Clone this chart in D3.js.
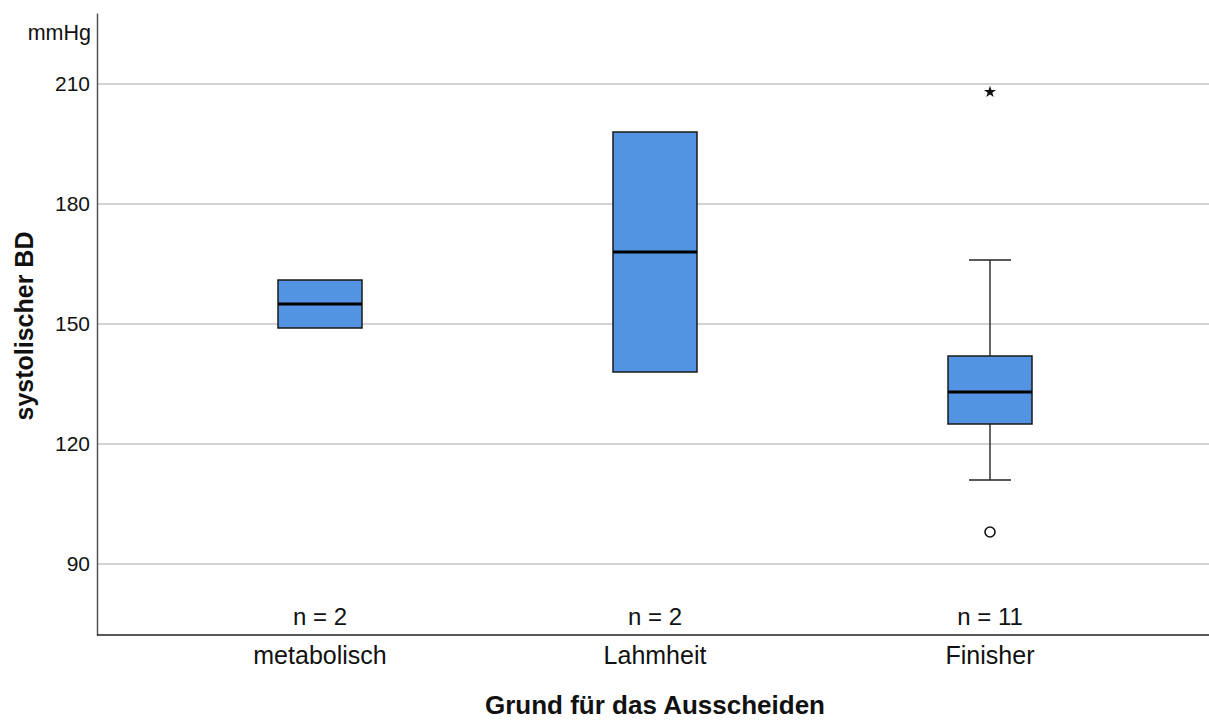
<!DOCTYPE html>
<html>
<head>
<meta charset="utf-8">
<script src="https://cdn.jsdelivr.net/npm/d3@7"></script>
<style>
  html, body { margin: 0; padding: 0; background: #fff; }
  svg { display: block; font-family: "Liberation Sans", Arial, sans-serif; }
</style>
</head>
<body>
<svg id="chart" width="1209" height="724"></svg>
<script>
// Groups and their box-plot summaries (systolic blood pressure, mmHg)
const categories = ["metabolisch", "Lahmheit", "Finisher"];
const q1Values = [149, 138, 125];
const medianValues = [155, 168, 133];
const q3Values = [161, 198, 142];
const whiskerLow = [null, null, 111];
const whiskerHigh = [null, null, 166];
const counts = [2, 2, 11];
// Outliers (circle) and extreme values (star)
const outliers = [{ group: "Finisher", value: 98 }];
const extremes = [{ group: "Finisher", value: 208 }];
const yTicks = [90, 120, 150, 180, 210];

const svg = d3.select("#chart");
const W = 1209;
const axisLeft = 97, axisTop = 13, axisBottom = 635;

const x = d3.scaleBand().domain(categories).range([152.5, 1157.5]);
const xCenter = d => x(d) + x.bandwidth() / 2;
const y = d3.scaleLinear().domain([72.25, 227.75]).range([axisBottom, axisTop]);

// grid lines
svg.append("g")
  .selectAll("line")
  .data(yTicks)
  .join("line")
  .attr("x1", axisLeft).attr("x2", W)
  .attr("y1", d => y(d)).attr("y2", d => y(d))
  .attr("stroke", "#c4c4c4").attr("stroke-width", 1.5);

// y axis
const yAxis = d3.axisLeft(y).tickValues(yTicks).tickSize(0).tickPadding(7);
const gy = svg.append("g").attr("transform", `translate(${axisLeft},0)`).call(yAxis);
gy.select(".domain").attr("stroke", "#555").attr("stroke-width", 1.5);
gy.selectAll("text").attr("font-size", 21).attr("fill", "#111").attr("font-family", "Liberation Sans, Arial, sans-serif");

svg.append("text")
  .attr("x", 91).attr("y", 40)
  .attr("text-anchor", "end").attr("font-size", 21.5).attr("fill", "#111")
  .text("mmHg");

// x axis
const xAxis = d3.axisBottom(x).tickSize(0).tickPadding(11);
const gx = svg.append("g").attr("transform", `translate(0,${axisBottom})`).call(xAxis);
gx.select(".domain").attr("d", `M${axisLeft},0H${W}`).attr("stroke", "#222").attr("stroke-width", 1.5);
gx.selectAll("text").attr("font-size", 25).attr("fill", "#111").attr("font-family", "Liberation Sans, Arial, sans-serif");

// axis titles
svg.append("text")
  .attr("x", 655).attr("y", 714)
  .attr("text-anchor", "middle").attr("font-size", 26).attr("font-weight", "bold").attr("fill", "#111")
  .text("Grund für das Ausscheiden");

svg.append("text")
  .attr("transform", `translate(33,326) rotate(-90)`)
  .attr("text-anchor", "middle").attr("font-size", 25).attr("font-weight", "bold").attr("fill", "#111")
  .text("systolischer BD");

const boxW = 84, capW = 42;
const rows = categories.map((c, i) => ({
  c, q1: q1Values[i], med: medianValues[i], q3: q3Values[i],
  lo: whiskerLow[i], hi: whiskerHigh[i], n: counts[i]
}));

const g = svg.append("g");

// whiskers
rows.filter(r => r.lo != null).forEach(r => {
  const cx = xCenter(r.c);
  g.append("line").attr("x1", cx).attr("x2", cx).attr("y1", y(r.hi)).attr("y2", y(r.q3))
    .attr("stroke", "#333").attr("stroke-width", 1.5);
  g.append("line").attr("x1", cx).attr("x2", cx).attr("y1", y(r.q1)).attr("y2", y(r.lo))
    .attr("stroke", "#333").attr("stroke-width", 1.5);
  [r.hi, r.lo].forEach(v => {
    g.append("line").attr("x1", cx - capW / 2).attr("x2", cx + capW / 2).attr("y1", y(v)).attr("y2", y(v))
      .attr("stroke", "#222").attr("stroke-width", 1.5);
  });
});

// boxes
g.selectAll("rect.box")
  .data(rows)
  .join("rect")
  .attr("class", "box")
  .attr("x", d => xCenter(d.c) - boxW / 2)
  .attr("width", boxW)
  .attr("y", d => y(d.q3))
  .attr("height", d => y(d.q1) - y(d.q3))
  .attr("fill", "#5294e2")
  .attr("stroke", "#1a1a1a").attr("stroke-width", 1.5);

// medians
g.selectAll("line.median")
  .data(rows)
  .join("line")
  .attr("class", "median")
  .attr("x1", d => xCenter(d.c) - boxW / 2).attr("x2", d => xCenter(d.c) + boxW / 2)
  .attr("y1", d => y(d.med)).attr("y2", d => y(d.med))
  .attr("stroke", "#000").attr("stroke-width", 2.8);

// outliers
g.selectAll("circle.outlier")
  .data(outliers)
  .join("circle")
  .attr("cx", d => xCenter(d.group)).attr("cy", d => y(d.value))
  .attr("r", 5).attr("fill", "#fff").attr("stroke", "#111").attr("stroke-width", 1.6);

// extremes
g.selectAll("path.extreme")
  .data(extremes)
  .join("path")
  .attr("d", d3.symbol(d3.symbolStar, 45))
  .attr("transform", d => `translate(${xCenter(d.group)},${y(d.value)})`)
  .attr("fill", "#111");

// sample sizes
g.selectAll("text.n")
  .data(rows)
  .join("text")
  .attr("x", d => xCenter(d.c)).attr("y", 625)
  .attr("text-anchor", "middle").attr("font-size", 24).attr("fill", "#111")
  .text(d => `n = ${d.n}`);
</script>
</body>
</html>
